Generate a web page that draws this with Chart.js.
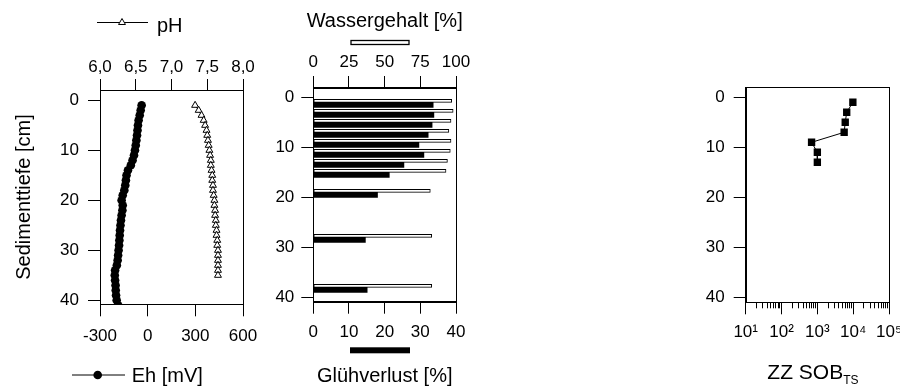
<!DOCTYPE html>
<html><head><meta charset="utf-8">
<script src="https://cdn.jsdelivr.net/npm/chart.js@4.4.1/dist/chart.umd.min.js"></script>
<style>
html,body{margin:0;padding:0;background:#fff;overflow:hidden;}
#wrap{position:relative;width:900px;height:387px;overflow:hidden;background:#fff;}
canvas{position:absolute;left:0;top:0;}
</style></head><body>
<div id="wrap">
<canvas id="c1" width="960" height="387"></canvas>
<canvas id="c2" width="960" height="387"></canvas>
<canvas id="c3" width="960" height="387"></canvas>
</div>
<script>
// ----------------- data -----------------
const ehDepth  = [1,2,3,4,5,6,7,8,9,10,11,12,13,14,15,16,17,18,19,20,21,22,23,24,25,26,27,28,29,30,31,32,33,34,35,36,37,38,39,40,41];
const ehValues = [-38,-44,-50,-57,-61,-64,-67,-71,-75,-80,-86,-95,-106,-124,-133,-137,-141,-147,-157,-164,-157,-159,-164,-168,-171,-174,-176,-178,-180,-183,-186,-189,-194,-205,-207,-205,-202,-201,-199,-195,-186];

const phDepth  = [1,2,3,4,5,6,7,8,9,10,11,12,13,14,15,16,17,18,19,20,21,22,23,24,25,26,27,28,29,30,31,32,33,34,35];
const phValues = [7.33,7.38,7.42,7.45,7.47,7.49,7.50,7.51,7.52,7.53,7.54,7.55,7.55,7.56,7.57,7.57,7.58,7.58,7.59,7.60,7.60,7.61,7.61,7.62,7.62,7.63,7.63,7.64,7.64,7.65,7.65,7.65,7.65,7.65,7.65];

const sampleDepth  = [1,3,5,7,9,11,13,15,19,28,38];
const wasserValues = [97,98,96.5,95,96.5,96,94,93,82,83,83];
const gluehValues  = [33.6,33.8,33.3,32.2,29.6,31.0,25.4,21.3,18.0,14.6,15.1];

const zzDepth  = [1,3,5,7,9,11,13];
const zzValues = [9800,6600,6000,5600,690,1000,1000];

const depthTicks    = [0,10,20,30,40];
const phTicks       = [6.0,6.5,7.0,7.5,8.0];
const phTickLabels  = ['6,0','6,5','7,0','7,5','8,0'];
const ehTicks       = [-300,0,300,600];
const wasserTicks   = [0,25,50,75,100];
const gluehTicks    = [0,10,20,30,40];
const zzTicks       = [10,100,1000,10000,100000];
const zzTickLabels  = ['10\u00B9','10\u00B2','10\u00B3','10\u2074','10\u2075'];
const zzMinorMult   = [2,3,4,5,6,7,8,9];
const zzDecades     = [10,100,1000,10000];

// ----------------- helpers -----------------
const FONT = "'Liberation Sans', Arial, Helvetica, sans-serif";
const W = 960, H = 387;
const TICK_FONT = {family: FONT, size: 17};

function pad(area, yW, topH, botH) {
  return {left: area.left - yW, top: area.top - topH, right: W - area.right, bottom: H - area.bottom - botH};
}
function setTicks(vals) { return s => { s.ticks = vals.map(v => ({value: v})); }; }

function depthAxis(min, max, padding, width) {
  return {
    type: 'linear', position: 'left', reverse: true, min, max, offset: false,
    afterBuildTicks: setTicks(depthTicks),
    afterFit: s => { s.width = width; },
    grid: {drawOnChartArea: false, drawTicks: true, tickLength: 12, tickColor: '#000', tickWidth: 1, offset: false},
    border: {display: true, color: '#000', width: 1},
    ticks: {color: '#000', font: TICK_FONT, padding, autoSkip: false, maxRotation: 0, callback: v => String(v)}
  };
}
function hAxis(position, type, min, max, tickVals, labelFn, height, padding, tickLen) {
  return {
    type, position, min, max, offset: false,
    afterBuildTicks: setTicks(tickVals),
    afterFit: s => { s.height = height; },
    grid: {drawOnChartArea: false, drawTicks: true, tickLength: tickLen, tickColor: '#000', tickWidth: 1, offset: false},
    border: {display: true, color: '#000', width: 1},
    ticks: {color: '#000', font: TICK_FONT, padding, autoSkip: false, maxRotation: 0, minRotation: 0, callback: labelFn}
  };
}
const common = {
  responsive: false, animation: false, events: [],
  plugins: {legend: {display: false}, tooltip: {enabled: false}, title: {display: false}}
};

function boxPlugin(id, extra) {
  return {
    id,
    afterDraw(chart) {
      const ctx = chart.ctx, a = chart.chartArea;
      ctx.save();
      ctx.strokeStyle = '#000'; ctx.lineWidth = 1;
      ctx.strokeRect(Math.round(a.left) + 0.5, Math.round(a.top) + 0.5, Math.round(a.right) - Math.round(a.left), Math.round(a.bottom) - Math.round(a.top));
      ctx.restore();
      if (extra) { ctx.save(); extra(ctx, chart); ctx.restore(); }
    }
  };
}
function text(ctx, s, x, y, size, align) {
  ctx.font = size + 'px ' + FONT;
  ctx.fillStyle = '#000';
  ctx.textAlign = align || 'left';
  ctx.textBaseline = 'alphabetic';
  ctx.fillText(s, x, y);
}
function hline(ctx, x1, x2, y) {
  ctx.strokeStyle = '#000'; ctx.lineWidth = 1;
  ctx.beginPath(); ctx.moveTo(x1, y); ctx.lineTo(x2, y); ctx.stroke();
}

// ----------------- panel 1: Eh / pH -----------------
const A1 = {left: 100, right: 243, top: 90, bottom: 304.3};
new Chart(document.getElementById('c1'), {
  type: 'scatter',
  data: {datasets: [
    {label: 'Eh [mV]', xAxisID: 'xEh', yAxisID: 'y',
     data: ehDepth.map((d, i) => ({x: ehValues[i], y: d})),
     showLine: true, borderColor: '#000', borderWidth: 1,
     pointStyle: 'circle', pointRadius: 4.3, pointBackgroundColor: '#000', pointBorderColor: '#000', pointBorderWidth: 0},
    {label: 'pH', xAxisID: 'xpH', yAxisID: 'y',
     data: phDepth.map((d, i) => ({x: phValues[i], y: d})),
     showLine: true, borderColor: '#000', borderWidth: 1,
     pointStyle: 'triangle', pointRadius: 4, pointBackgroundColor: '#fff', pointBorderColor: '#000', pointBorderWidth: 1}
  ]},
  options: Object.assign({}, common, {
    layout: {padding: pad(A1, 60, 60, 50), autoPadding: false},
    scales: {
      y: depthAxis(-2.06, 40.8, 9, 60),
      xEh: hAxis('bottom', 'linear', -300, 600, ehTicks, v => String(v), 50, 9.5, 12),
      xpH: hAxis('top', 'linear', 6, 8, phTicks, v => phTickLabels[phTicks.indexOf(v)], 60, 1, 11)
    }
  }),
  plugins: [boxPlugin('p1', (ctx) => {
    // pH legend
    hline(ctx, 97, 148, 22.5);
    ctx.fillStyle = '#fff'; ctx.strokeStyle = '#000'; ctx.lineWidth = 1;
    Chart.helpers.drawPoint(ctx, {pointStyle: 'triangle', radius: 4, rotation: 0, borderWidth: 1}, 122, 22.5);
    text(ctx, 'pH', 157, 31.7, 20);
    // Eh legend
    hline(ctx, 72, 125, 375);
    ctx.fillStyle = '#000'; ctx.strokeStyle = '#000';
    Chart.helpers.drawPoint(ctx, {pointStyle: 'circle', radius: 4.3, rotation: 0, borderWidth: 0}, 97.7, 375);
    text(ctx, 'Eh [mV]', 131.7, 381.7, 20);
    // y title
    ctx.save();
    ctx.translate(30, 197);
    ctx.rotate(-Math.PI / 2);
    text(ctx, 'Sedimenttiefe [cm]', 0, 0, 20, 'center');
    ctx.restore();
  })]
});

// ----------------- panel 2: Wassergehalt / Glühverlust -----------------
const A2 = {left: 313.3, right: 456, top: 87.5, bottom: 301.7};
new Chart(document.getElementById('c2'), {
  type: 'bar',
  data: {datasets: [
    {label: 'Wassergehalt [%]', xAxisID: 'x2', yAxisID: 'y',
     data: sampleDepth.map((d, i) => ({x: wasserValues[i], y: d})),
     backgroundColor: '#fff', borderColor: '#000', borderWidth: 1, borderSkipped: false, barThickness: 3},
    {label: 'Glühverlust [%]', xAxisID: 'x', yAxisID: 'y',
     data: sampleDepth.map((d, i) => ({x: gluehValues[i], y: d})),
     backgroundColor: '#000', borderWidth: 0, barThickness: 5}
  ]},
  options: Object.assign({}, common, {
    indexAxis: 'y',
    layout: {padding: pad(A2, 60, 60, 50), autoPadding: false},
    scales: {
      y: depthAxis(-1.96, 40.88, 7, 60),
      x: hAxis('bottom', 'linear', 0, 40, gluehTicks, v => String(v), 50, 8, 12),
      x2: hAxis('top', 'linear', 0, 100, wasserTicks, v => String(v), 60, 3.6, 11.5)
    }
  }),
  plugins: [boxPlugin('p2', (ctx) => {
    text(ctx, 'Wassergehalt [%]', 384.7, 26.7, 20, 'center');
    ctx.fillStyle = '#fff'; ctx.strokeStyle = '#000'; ctx.lineWidth = 1.3;
    ctx.fillRect(351, 40.5, 58, 4); ctx.strokeRect(351, 40.5, 58, 4);
    ctx.fillStyle = '#000';
    ctx.fillRect(350, 347.3, 60, 6);
    text(ctx, 'Glühverlust [%]', 384.7, 381.7, 20, 'center');
  })]
});

// ----------------- panel 3: ZZ SOB -----------------
const A3 = {left: 745.7, right: 889, top: 87.3, bottom: 302.3};
const zzMinorTicks = zzDecades.flatMap(d => zzMinorMult.map(m => m * d));
new Chart(document.getElementById('c3'), {
  type: 'scatter',
  data: {datasets: [
    {label: 'ZZ SOB', xAxisID: 'x', yAxisID: 'y',
     data: zzDepth.map((d, i) => ({x: zzValues[i], y: d})),
     showLine: true, borderColor: '#000', borderWidth: 1,
     pointStyle: 'rect', pointRadius: 5.2, pointBackgroundColor: '#000', pointBorderColor: '#000', pointBorderWidth: 0}
  ]},
  options: Object.assign({}, common, {
    layout: {padding: pad(A3, 60, 0, 50), autoPadding: false},
    scales: {
      y: depthAxis(-2, 41, 9, 60),
      xm: Object.assign(hAxis('bottom', 'logarithmic', 10, 100000, zzMinorTicks, () => '', 0, 0, 6), {weight: 0}),
      x: Object.assign(hAxis('bottom', 'logarithmic', 10, 100000, zzTicks, v => zzTickLabels[zzTicks.indexOf(v)], 50, 8, 12), {weight: 1})
    }
  }),
  plugins: [boxPlugin('p3', (ctx) => {
    text(ctx, 'ZZ SOB', 767.3, 379.3, 21);
    ctx.font = '21px ' + FONT;
    const w = ctx.measureText('ZZ SOB').width;
    text(ctx, 'TS', 767.3 + w, 384.3, 12);
  })]
});
</script>
</body></html>
